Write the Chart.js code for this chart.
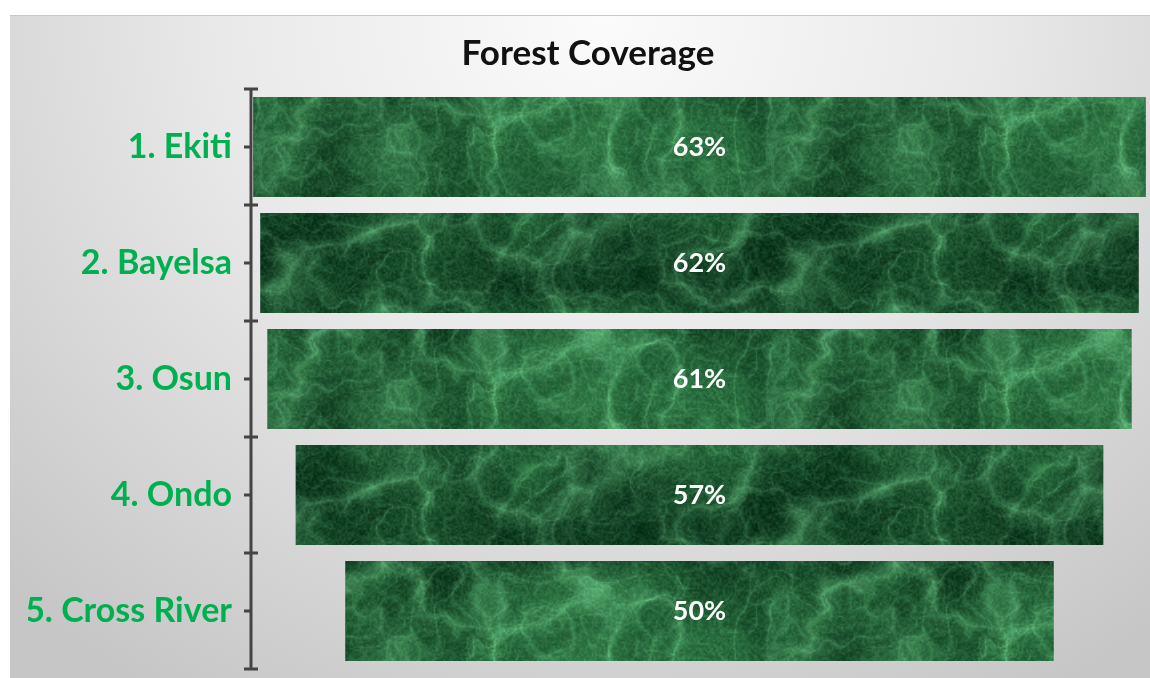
<!DOCTYPE html>
<html>
<head>
<meta charset="utf-8">
<script src="https://cdn.jsdelivr.net/npm/chart.js@4"></script>
<style>
  html, body { margin: 0; padding: 0; background: #fff; }
  #wrap {
    position: absolute; left: 10px; top: 15px; width: 1140px; height: 663px;
    border-top: 1px solid #c8c8c8; box-sizing: border-box;
    background: radial-gradient(ellipse 75% 120% at 52% 0%, #fbfbfb 0%, #e9e9e9 45%, #c6c6c6 100%);
  }
  canvas { display: block; }
</style>
</head>
<body>
<div id="wrap"><canvas id="chart" width="1140" height="662"></canvas></div>
<script>
const states = ["1. Ekiti", "2. Bayelsa", "3. Osun", "4. Ondo", "5. Cross River"];
const coverage = [63, 62, 61, 57, 50];

// marble-like green texture for the bars (tileable value noise)
function marbleTexture() {
  const W = 512, H = 256;
  const c = document.createElement("canvas");
  c.width = W; c.height = H;
  const g = c.getContext("2d");
  const img = g.createImageData(W, H);
  function hash(x, y, seed) {
    let h = Math.imul(x, 374761393) + Math.imul(y, 668265263) + seed;
    h = Math.imul(h ^ (h >>> 13), 1274126177);
    return ((h ^ (h >>> 16)) >>> 0) / 4294967295;
  }
  const mod = (a, n) => ((a % n) + n) % n;
  function noise(x, y, cell, seed) {
    const px = W / cell, py = H / cell;
    const fx = x / cell, fy = y / cell;
    const x0 = Math.floor(fx), y0 = Math.floor(fy);
    const tx = fx - x0, ty = fy - y0;
    const sx = tx * tx * (3 - 2 * tx), sy = ty * ty * (3 - 2 * ty);
    const xa = mod(x0, px), xb = mod(x0 + 1, px), ya = mod(y0, py), yb = mod(y0 + 1, py);
    const a = hash(xa, ya, seed), b = hash(xb, ya, seed);
    const d = hash(xa, yb, seed), e = hash(xb, yb, seed);
    const top = a + (b - a) * sx, bot = d + (e - d) * sx;
    return top + (bot - top) * sy;
  }
  for (let y = 0; y < H; y++) {
    for (let x = 0; x < W; x++) {
      // domain warp to break up the grid
      const wx = x + 40 * (noise(x, y, 64, 3) - 0.5) + 14 * (noise(x, y, 16, 4) - 0.5);
      const wy = y + 40 * (noise(x, y, 64, 7) - 0.5) + 14 * (noise(x, y, 16, 8) - 0.5);
      let base = 0, amp = 0.5;
      for (const cell of [128, 64, 32, 16, 8]) { base += noise(wx, wy, cell, 11) * amp; amp *= 0.5; }
      base /= 0.96875;
      let vein = 0; amp = 0.6;
      for (const cell of [64, 32, 16, 8]) {
        const n = noise(wx, wy, cell, 97 + cell);
        vein += Math.pow(1 - Math.abs(2 * n - 1), 8) * amp; amp *= 0.65;
      }
      const fine = noise(x, y, 2, 5);
      const t = Math.max(0, Math.min(1, (base - 0.28) * 1.7));
      let r = 8 + 38 * t, gg = 48 + 70 * t, b = 24 + 44 * t;
      const v = Math.min(1, vein * 0.9);
      r += 60 * v; gg += 85 * v; b += 65 * v;
      const f = (fine - 0.5) * 30;
      const i = (y * W + x) * 4;
      img.data[i] = Math.max(0, Math.min(255, r + f * 0.6));
      img.data[i + 1] = Math.max(0, Math.min(255, gg + f));
      img.data[i + 2] = Math.max(0, Math.min(255, b + f * 0.7));
      img.data[i + 3] = 255;
    }
  }
  g.putImageData(img, 0, 0);
  return c;
}

const ctx = document.getElementById("chart").getContext("2d");
const pattern = ctx.createPattern(marbleTexture(), "repeat");

const axisPlugin = {
  id: "funnelAxis",
  afterDraw(chart) {
    const { ctx, chartArea, scales } = chart;
    const y = scales.y;
    const x0 = chartArea.left;
    const step = (y.getPixelForValue(1) - y.getPixelForValue(0));
    ctx.save();
    ctx.strokeStyle = "#444";
    ctx.lineWidth = 3;
    ctx.beginPath();
    ctx.moveTo(x0, chartArea.top);
    ctx.lineTo(x0, chartArea.bottom);
    for (let i = 0; i <= states.length; i++) {
      const py = y.getPixelForValue(i) - step / 2;
      ctx.moveTo(x0 - 7, py); ctx.lineTo(x0 + 7, py);
    }
    for (let i = 0; i < states.length; i++) {
      const py = y.getPixelForValue(i);
      ctx.moveTo(x0 - 7, py); ctx.lineTo(x0, py);
    }
    ctx.stroke();
    ctx.restore();
  }
};

const valueLabels = {
  id: "valueLabels",
  afterDatasetsDraw(chart) {
    const { ctx } = chart;
    const meta = chart.getDatasetMeta(0);
    ctx.save();
    ctx.fillStyle = "#ffffff";
    ctx.font = "bold 27px Lato";
    ctx.textAlign = "center";
    ctx.textBaseline = "middle";
    meta.data.forEach((bar, i) => {
      ctx.fillText(coverage[i] + "%", (bar.x + bar.base) / 2, bar.y);
    });
    ctx.restore();
  }
};

new Chart(ctx, {
  type: "bar",
  data: {
    labels: states,
    datasets: [{
      label: "Forest Coverage",
      data: coverage.map(v => [-v / 2, v / 2]),
      backgroundColor: pattern,
      borderWidth: 0,
      barPercentage: 0.862,
      categoryPercentage: 1
    }]
  },
  options: {
    indexAxis: "y",
    responsive: false,
    animation: false,
    devicePixelRatio: 1,
    layout: { padding: { left: 18, right: 2, top: 0, bottom: 9 } },
    plugins: {
      legend: { display: false },
      tooltip: { enabled: false },
      title: {
        display: true,
        text: "Forest Coverage",
        color: "#111",
        font: { family: "Lato", size: 35, weight: "bold" },
        padding: { top: 17, bottom: 14 }
      }
    },
    scales: {
      x: { display: false, min: -31.65, max: 31.65 },
      y: {
        grid: { display: false, drawTicks: false },
        border: { display: false },
        ticks: {
          color: "#00b050",
          padding: 19,
          font: { family: "Lato", size: 34, weight: "bold" }
        },
        afterFit(scale) {
          scale.width = 223;
          scale.paddingTop = 0;
          scale.paddingBottom = 0;
        }
      }
    }
  },
  plugins: [axisPlugin, valueLabels]
});
</script>
</body>
</html>
